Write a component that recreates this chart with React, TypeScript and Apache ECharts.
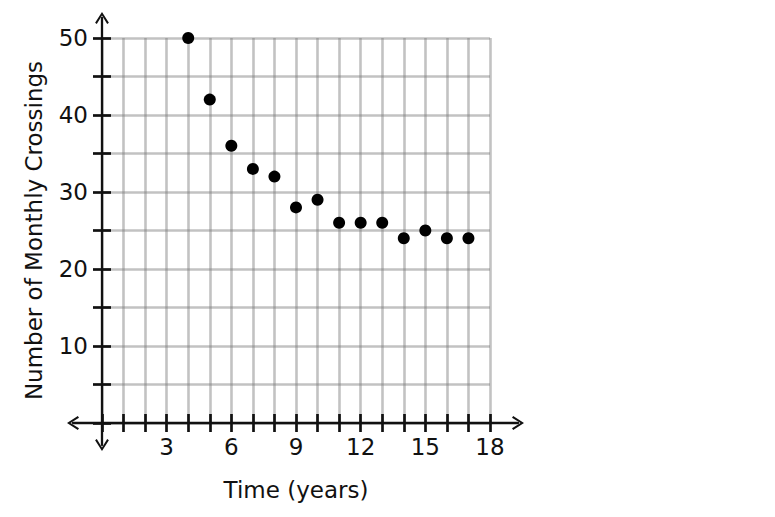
import React, { useEffect, useRef } from "react";
import * as echarts from "echarts";

const years = [4, 5, 6, 7, 8, 9, 10, 11, 12, 13, 14, 15, 16, 17];
const crossings = [50, 42, 36, 33, 32, 28, 29, 26, 26, 26, 24, 25, 24, 24];
const xTickLabels = [3, 6, 9, 12, 15, 18];
const yTickLabels = [10, 20, 30, 40, 50];

const FONT = "DejaVu Sans";
const ARROW = "path://M7,0 L14,11 L12.3,12.2 L7,3.6 L1.7,12.2 L0,11 Z";
const GRID_COLOR = "rgba(120,120,120,0.45)";

export default function App() {
  const ref = useRef<HTMLDivElement>(null);
  useEffect(() => {
    if (!ref.current) return;
    const chart = echarts.init(ref.current, undefined, { renderer: "svg" });
    const tickStyle = { color: "#111", width: 2.7 };
    const labelStyle = { color: "#111", fontSize: 23, fontFamily: FONT };
    const data = years.map((x, i) => [x, crossings[i]]);
    chart.setOption({
      animation: false,
      backgroundColor: "#fff",
      grid: [
        { left: 102, right: 285, top: 38, bottom: 94 },
        { left: 73, right: 257, top: 18, bottom: 72 },
      ],
      xAxis: [
        {
          type: "value",
          gridIndex: 0,
          min: 0,
          max: 18,
          interval: 1,
          position: "bottom",
          name: "Time (years)",
          nameLocation: "middle",
          nameGap: 55,
          nameTextStyle: { color: "#111", fontSize: 23, fontFamily: FONT },
          axisLine: { show: false },
          axisTick: { show: true, inside: false, length: 9, lineStyle: tickStyle },
          axisLabel: {
            ...labelStyle,
            margin: 12,
            formatter: (v: number) => (xTickLabels.includes(v) ? String(v) : ""),
          },
          splitLine: { show: true, lineStyle: { color: GRID_COLOR, width: 2.6 } },
        },
        {
          type: "value",
          gridIndex: 0,
          min: 0,
          max: 18,
          interval: 1,
          position: "bottom",
          axisLine: { show: false },
          axisTick: { show: true, inside: true, length: 9, lineStyle: tickStyle },
          axisLabel: { show: false },
          splitLine: { show: false },
        },
        {
          type: "value",
          gridIndex: 1,
          min: -1.345,
          max: 19.3,
          axisLine: {
            show: true,
            onZero: true,
            symbol: [ARROW, ARROW],
            symbolSize: [14, 12],
            lineStyle: { color: "#111", width: 2.3 },
          },
          axisTick: { show: false },
          axisLabel: { show: false },
          splitLine: { show: false },
        },
      ],
      yAxis: [
        {
          type: "value",
          gridIndex: 0,
          min: 0,
          max: 50,
          interval: 5,
          position: "left",
          name: "Number of Monthly Crossings",
          nameLocation: "middle",
          nameGap: 57,
          nameTextStyle: { color: "#111", fontSize: 23, fontFamily: FONT },
          axisLine: { show: false },
          axisTick: { show: true, inside: false, length: 9, lineStyle: tickStyle },
          axisLabel: {
            ...labelStyle,
            margin: 14,
            formatter: (v: number) => (yTickLabels.includes(v) ? String(v) : ""),
          },
          splitLine: { show: true, lineStyle: { color: GRID_COLOR, width: 2.6 } },
        },
        {
          type: "value",
          gridIndex: 0,
          min: 0,
          max: 50,
          interval: 5,
          position: "left",
          axisLine: { show: false },
          axisTick: { show: true, inside: true, length: 9, lineStyle: tickStyle },
          axisLabel: { show: false },
          splitLine: { show: false },
        },
        {
          type: "value",
          gridIndex: 1,
          min: -2.857,
          max: 52.6,
          axisLine: {
            show: true,
            onZero: true,
            symbol: [ARROW, ARROW],
            symbolSize: [14, 12],
            lineStyle: { color: "#111", width: 2.3 },
          },
          axisTick: { show: false },
          axisLabel: { show: false },
          splitLine: { show: false },
        },
      ],
      series: [
        {
          type: "scatter",
          xAxisIndex: 0,
          yAxisIndex: 0,
          data,
          symbol: "circle",
          symbolSize: 12,
          itemStyle: { color: "#000", opacity: 1 },
          z: 10,
        },
      ],
    });
    return () => chart.dispose();
  }, []);
  return (
    <div
      ref={ref}
      style={{ position: "absolute", left: 0, top: 0, width: 775, height: 517 }}
    />
  );
}
